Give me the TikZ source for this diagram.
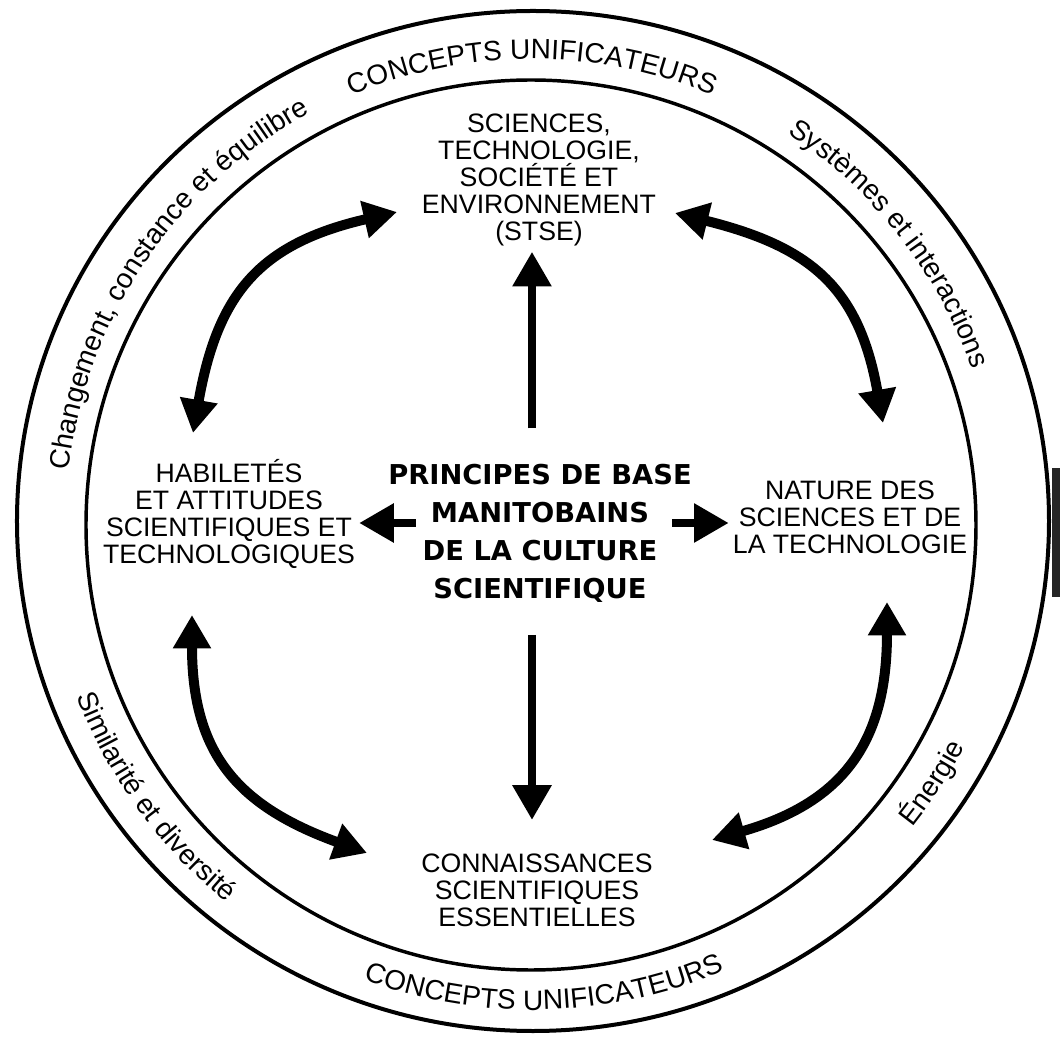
\documentclass[tikz,border=0pt]{standalone}
\usepackage{fontspec}
\usepackage{tikz}
\usetikzlibrary{arrows.meta,decorations.text}
\newfontfamily\labelfont{Liberation Sans}
\newfontfamily\hubfont{DejaVu Sans}
\newcommand{\ringfont}{\labelfont\fontsize{21}{21}\selectfont}

\tikzset{
  lbl/.style={font=\labelfont\fontsize{20}{20.3}\selectfont, align=center, inner sep=0pt},
  hubtext/.style={font=\hubfont\bfseries\fontsize{20.5}{28.5}\selectfont, align=center, inner sep=0pt},
  arr/.style={line width=6pt, -{Triangle[width=28pt,length=26pt]}},
  biarr/.style={line width=7.5pt, looseness=1.2,
    {Triangle[width=27pt,length=25pt]}-{Triangle[width=27pt,length=25pt]}},
  ring/.style={decorate, decoration={text along path, text align=center, text={#1}}},
}

\begin{document}
\begin{tikzpicture}[x=0.75pt, y=0.75pt]
\useasboundingbox (-532,-522) rectangle (528,523);
\draw[line width=3pt] (1,2) ellipse [x radius=516, y radius=510];
\draw[line width=2.6pt] (-1,-2) circle [radius=445];
\fill[black!85] (520,55) rectangle (528,-74);

\path[ring={|\ringfont|CONCEPTS UNIFICATEURS}] (125:464) arc[start angle=125, end angle=55, radius=464];
\path[ring={|\ringfont|CONCEPTS UNIFICATEURS}] (240:487) arc[start angle=240, end angle=303, radius=487];
\path[ring={|\ringfont|Changement, constance et équilibre}] (185:466) arc[start angle=185, end angle=107, radius=466];
\path[ring={|\ringfont|Systèmes et interactions}] (70:466) arc[start angle=70, end angle=6, radius=466];
\path[ring={|\ringfont|Similarité et diversité}] (190:487) arc[start angle=190, end angle=242, radius=487];
\path[ring={|\ringfont|Énergie}] (-55:487) arc[start angle=-55, end angle=-11, radius=487];

\node[lbl] (stse) at (7,343) {SCIENCES,\\TECHNOLOGIE,\\SOCIÉTÉ ET\\ENVIRONNEMENT\\(STSE)};
\node[lbl] (habil) at (-303,9) {HABILETÉS\\ET ATTITUDES\\SCIENTIFIQUES ET\\TECHNOLOGIQUES};
\node[lbl] (nature) at (318,6) {NATURE DES\\SCIENCES ET DE\\LA TECHNOLOGIE};
\node[lbl] (conn) at (5,-367) {CONNAISSANCES\\SCIENTIFIQUES\\ESSENTIELLES};
\node[hubtext] (hub) at (8,-10) {PRINCIPES DE BASE\\MANITOBAINS\\DE LA CULTURE\\SCIENTIFIQUE};

\coordinate (mid) at (0,0);
\draw[arr, shorten <=71pt, shorten >=4pt] (mid) -- (mid |- stse.south);
\draw[arr, shorten <=84pt, shorten >=25pt] (mid) -- (mid |- conn.north);
\draw[arr, shorten <=87pt, shorten >=3pt] (mid) -- (mid -| habil.east);
\draw[arr, shorten <=105pt, shorten >=3pt] (mid) -- (mid -| nature.west);

\coordinate (habil-n) at (-339,90);
\coordinate (stse-w) at (-135,311);
\coordinate (stse-e) at (143,310);
\coordinate (nature-n) at (351,100);
\coordinate (habil-s) at (-340,-92);
\coordinate (conn-w) at (-165,-330);
\coordinate (nature-s) at (355,-79);
\coordinate (conn-e) at (180,-317);
\draw[biarr] (habil-n) to[out=80, in=193] (stse-w);
\draw[biarr] (stse-e) to[out=-14, in=100] (nature-n);
\draw[biarr] (habil-s) to[out=-90, in=160] (conn-w);
\draw[biarr] (nature-s) to[out=-90, in=16] (conn-e);
\end{tikzpicture}
\end{document}
